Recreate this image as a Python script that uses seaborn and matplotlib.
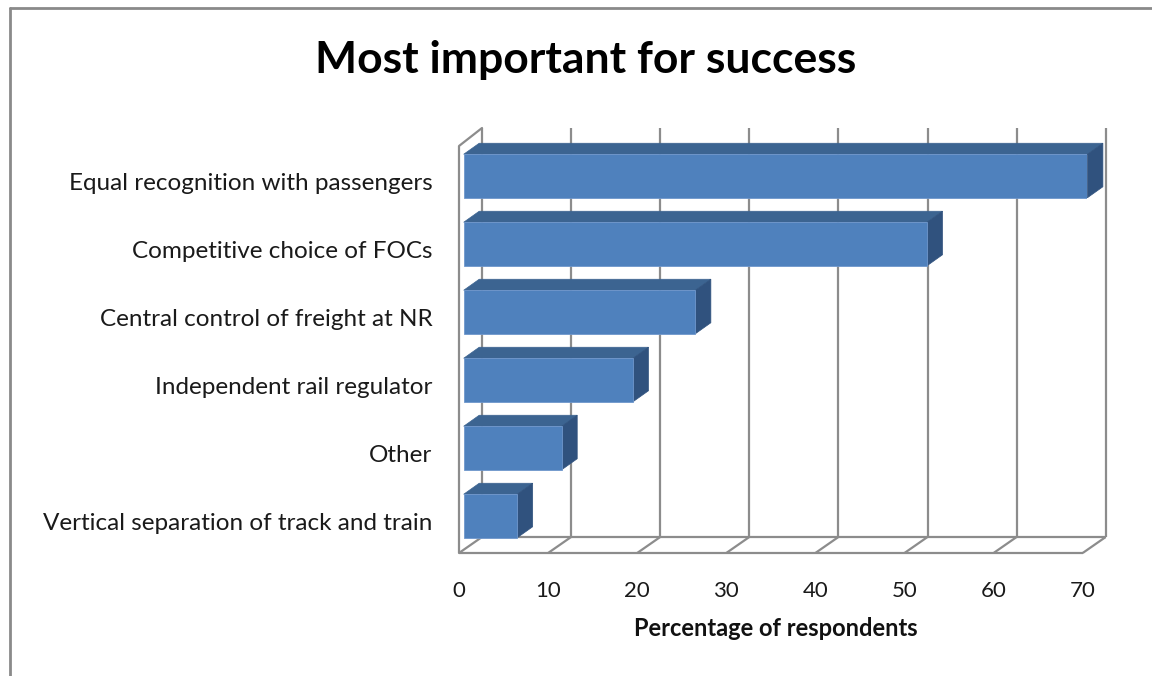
import matplotlib
matplotlib.use("Agg")
import matplotlib.pyplot as plt
import matplotlib.transforms as mtransforms
from matplotlib.patches import Polygon
from matplotlib.lines import Line2D
import seaborn as sns
import pandas as pd

# ---- data ----
categories = [
    "Equal recognition with passengers",
    "Competitive choice of FOCs",
    "Central control of freight at NR",
    "Independent rail regulator",
    "Other",
    "Vertical separation of track and train",
]
values = [70, 52, 26, 19, 11, 6]
xticks = [0, 10, 20, 30, 40, 50, 60, 70]
title = "Most important for success"
xlabel = "Percentage of respondents"

sns.set_theme(style="white")
plt.rcParams["font.family"] = ["Lato", "DejaVu Sans"]

W, H, DPI = 1152, 676, 100
fig = plt.figure(figsize=(W / DPI, H / DPI), dpi=DPI)
fig.patch.set_facecolor("white")

# axes placed on the "bar plane" (pixel geometry)
ax_left_px, ax_right_px = 463.7, 1087.4
ax_top_px, ax_bot_px = 142, 550
ax = fig.add_axes([ax_left_px / W, 1 - ax_bot_px / H,
                   (ax_right_px - ax_left_px) / W, (ax_bot_px - ax_top_px) / H])

df = pd.DataFrame({"category": categories, "value": values})
FRONT = "#4F81BD"
TOP = "#3C6491"
SIDE = "#30527E"
sns.barplot(data=df, x="value", y="category", orient="h", color=FRONT,
            width=0.64, saturation=1, ax=ax, zorder=3,
            edgecolor="#6F97CC", linewidth=0.6)
ax.set_xlim(0, 70)
ax.set_ylim(len(categories) - 0.5, -0.5)
for s in ax.spines.values():
    s.set_visible(False)
ax.set_facecolor("none")

ux = (ax_right_px - ax_left_px) / 70.0          # px per x unit
uy = (ax_bot_px - ax_top_px) / len(categories)   # px per y unit

def dx(px):
    return px / ux

def dy(px):
    return px / uy

# 3D geometry offsets (in px)
FRONT_DX = -4.7
BACK_DX = 18.3
y_floor_front = len(categories) - 0.5 + dy(553 - ax_bot_px)
y_floor_back = len(categories) - 0.5 + dy(537 - ax_bot_px)
y_back_top = -0.5 + dy(128 - ax_top_px)
y_left_top = -0.5 + dy(146 - ax_top_px)

GRID = "#8C8C8C"
LW = 1.6
lines = []
xmax = xticks[-1]
for t in xticks:
    xb = t + dx(BACK_DX)
    lines.append(([xb, xb], [y_back_top, y_floor_back]))
    xf = t + dx(FRONT_DX)
    lines.append(([xf, xb], [y_floor_front, y_floor_back]))
lines.append(([dx(FRONT_DX), xmax + dx(FRONT_DX)], [y_floor_front, y_floor_front]))
lines.append(([dx(BACK_DX), xmax + dx(BACK_DX)], [y_floor_back, y_floor_back]))
for xs, ys in lines:
    ax.add_line(Line2D(xs, ys, color=GRID, lw=LW, zorder=1, clip_on=False,
                       solid_capstyle="butt"))
ax.add_line(Line2D([dx(FRONT_DX), dx(FRONT_DX), dx(BACK_DX)],
                   [y_floor_front, y_left_top, y_back_top],
                   color=GRID, lw=LW, zorder=1, clip_on=False))

# 3D faces for bars
DDX, DDY = 15.5, 11.0
for p in ax.patches:
    x0 = p.get_x()
    w = p.get_width()
    y0 = p.get_y()
    h = p.get_height()
    yt = min(y0, y0 + h)
    yb = max(y0, y0 + h)
    ox, oy = dx(DDX), dy(DDY)
    top = Polygon([(x0, yt), (x0 + w, yt), (x0 + w + ox, yt - oy), (x0 + ox, yt - oy)],
                  closed=True, facecolor=TOP, edgecolor=TOP, lw=0.5, zorder=2.5, clip_on=False)
    side = Polygon([(x0 + w, yt), (x0 + w, yb), (x0 + w + ox, yb - oy), (x0 + w + ox, yt - oy)],
                   closed=True, facecolor=SIDE, edgecolor=SIDE, lw=0.5, zorder=2.5, clip_on=False)
    ax.add_patch(top)
    ax.add_patch(side)

# ticks
ax.set_xticks(xticks)
ax.set_xticklabels([str(t) for t in xticks], fontsize=16, color="#1a1a1a")
ax.tick_params(axis="x", length=0, pad=22)
ax.tick_params(axis="y", length=0, pad=22.5)
ax.set_yticks(range(len(categories)))
ax.set_yticklabels(categories, fontsize=17.5, color="#1a1a1a")
shift_x = mtransforms.ScaledTranslation(FRONT_DX / DPI, 0, fig.dpi_scale_trans)
for lbl in ax.get_xticklabels():
    lbl.set_transform(lbl.get_transform() + shift_x)
shift_y = mtransforms.ScaledTranslation(0, -6 / DPI, fig.dpi_scale_trans)
for lbl in ax.get_yticklabels():
    lbl.set_transform(lbl.get_transform() + shift_y)

ax.set_ylabel("")
ax.set_xlabel(xlabel, fontsize=17, fontweight="bold", labelpad=12, color="#111111")

fig.text(586 / W, 1 - 60 / H, title, ha="center", va="center",
         fontsize=32, fontweight="bold", color="black")

# chart border (top and left visible)
fig.add_artist(Line2D([9.5 / W, 9.5 / W], [0, 1 - 8 / H], transform=fig.transFigure,
                      color="#8A8A8A", lw=2))
fig.add_artist(Line2D([9.5 / W, 1], [1 - 8 / H, 1 - 8 / H], transform=fig.transFigure,
                      color="#8A8A8A", lw=2))

fig.savefig("out.png", dpi=DPI, facecolor="white")
